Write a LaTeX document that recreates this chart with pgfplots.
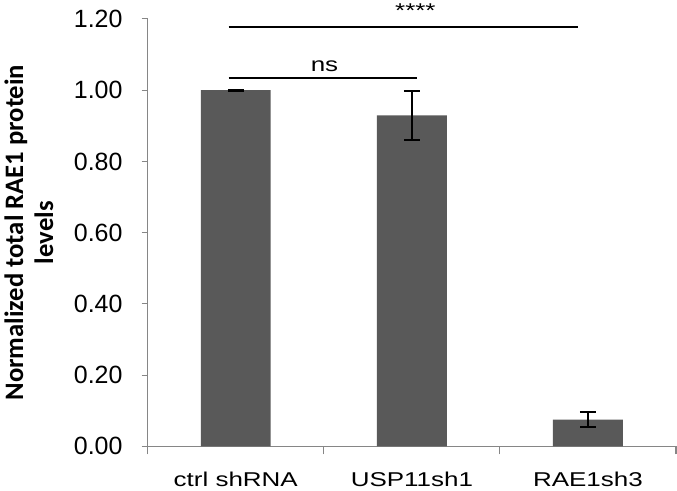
\documentclass[border=0pt]{standalone}
\usepackage{fontspec}
\setmainfont{Liberation Sans}[FakeStretch=1.3]
\newfontfamily\tickfont{Liberation Sans}
\newfontfamily\ylabfont{Carlito}
\usepackage{pgfplots}
\pgfplotsset{compat=1.18}
\definecolor{barfill}{HTML}{595959}
\definecolor{axisgray}{HTML}{868686}

\begin{document}
\begin{tikzpicture}
\begin{axis}[
    scale only axis,
    width=396.75pt, height=321pt,
    xmin=-0.5, xmax=2.5, ymin=0, ymax=1.2,
    enlargelimits=false,
    clip=false,
    ybar,
    axis lines=left,
    axis line style={-, draw=axisgray, line width=0.8pt},
    tick align=outside,
    major tick length=4.5pt,
    minor tick length=6pt,
    tick style={draw=axisgray, line width=0.8pt},
    xtick={0,1,2},
    xticklabels={ctrl shRNA, USP11sh1, RAE1sh3},
    major x tick style={draw=none},
    minor xtick={-0.5,0.5,1.5,2.5},
    ytick={0,0.2,0.4,0.6,0.8,1.0,1.2},
    yticklabels={0.00,0.20,0.40,0.60,0.80,1.00,1.20},
    yticklabel style={font=\tickfont\fontsize{18.75}{22}\selectfont, anchor=east, inner sep=0pt, xshift=-14.25pt},
    xticklabel style={font=\fontsize{15}{18}\selectfont, anchor=north, inner sep=0pt, yshift=-14.25pt},
    ylabel={Normalized total RAE1 protein\\levels},
    ylabel style={at={(rel axis cs:-0.225,0.5)}, anchor=center, align=center,
        font=\ylabfont\bfseries\fontsize{20}{22.5}\selectfont},
]
\addplot[fill=barfill, draw=none, bar width=52.5pt,
    error bars/.cd, y dir=both, y explicit,
    error bar style={black, line width=1.1pt},
    error mark options={rotate=90, mark size=6pt, line width=1.1pt, black}]
    coordinates {(0,1.00) +- (0,0.002) (1,0.929) +- (0,0.069) (2,0.075) +- (0,0.021)};

% significance annotations
\draw[black, line width=1.5pt] (axis cs:-0.041,1.178) -- (axis cs:1.945,1.178);
\draw[black, line width=1.5pt] (axis cs:-0.041,1.034) -- (axis cs:1.031,1.034);
\node[anchor=base, inner sep=0pt, font=\fontsize{15}{18}\selectfont] at (axis cs:0.504,1.052) {ns};
\node[anchor=base, inner sep=0pt, font=\fontsize{15}{18}\selectfont] at (axis cs:1.02,1.204) {****};

\path (rel axis cs:-0.2779,-0.1028) rectangle (rel axis cs:1.0019,1.0444);
\end{axis}
\end{tikzpicture}
\end{document}
